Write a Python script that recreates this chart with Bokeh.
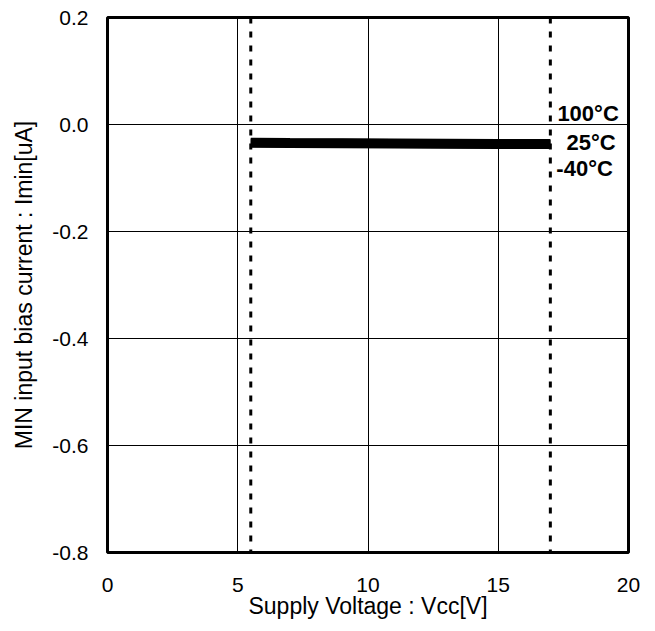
from bokeh.plotting import figure
from bokeh.models import Range1d, FixedTicker, Span, Label
from bokeh.embed import file_html
from bokeh.resources import INLINE

# ---- data ----
vcc = [5.5, 7.0, 9.0, 11.0, 13.0, 15.0, 17.0]
imin_100 = [-0.033, -0.0335, -0.034, -0.0345, -0.035, -0.0355, -0.0355]
imin_25 = [-0.034, -0.0345, -0.035, -0.0355, -0.036, -0.0365, -0.0365]
imin_m40 = [-0.035, -0.0355, -0.036, -0.0365, -0.037, -0.0375, -0.0375]
x_ticks = [0, 5, 10, 15, 20]
y_ticks = [-0.8, -0.6, -0.4, -0.2, 0.0, 0.2]
y_tick_labels = {-0.8: "-0.8", -0.6: "-0.6", -0.4: "-0.4", -0.2: "-0.2", 0.0: "0.0", 0.2: "0.2"}
vcc_limits = [5.5, 17.0]
temp_labels = ["100°C", "25°C", "-40°C"]

FONT = "Liberation Sans"

p = figure(width=647, height=623, output_backend="svg", toolbar_location=None,
           x_range=Range1d(0, 20), y_range=Range1d(-0.8, 0.2),
           min_border_left=107, min_border_top=17, min_border_right=19, min_border_bottom=71)

p.background_fill_color = "white"
p.border_fill_color = "white"
p.outline_line_color = "black"
p.outline_line_width = 3

for ax in (p.xaxis[0], p.yaxis[0]):
    ax.axis_line_color = None
    ax.major_tick_line_color = None
    ax.minor_tick_line_color = None
    ax.major_tick_in = 0
    ax.major_tick_out = 0
    ax.major_label_text_font = FONT
    ax.major_label_text_font_size = "21px"
    ax.major_label_text_color = "black"
    ax.axis_label_text_font = FONT
    ax.axis_label_text_font_size = "23px"
    ax.axis_label_text_font_style = "normal"
    ax.axis_label_text_color = "black"

p.xaxis.ticker = FixedTicker(ticks=x_ticks)
p.yaxis.ticker = FixedTicker(ticks=y_ticks)
p.yaxis.major_label_overrides = y_tick_labels
p.xaxis.major_label_standoff = 25
p.yaxis.major_label_standoff = 19
p.xaxis.axis_label = "Supply Voltage : Vcc[V]"
p.yaxis.axis_label = "MIN input bias current : Imin[uA]"
p.xaxis.axis_label_standoff = -2
p.yaxis.axis_label_standoff = 12

p.xgrid.ticker = FixedTicker(ticks=x_ticks)
p.ygrid.ticker = FixedTicker(ticks=y_ticks)
p.grid.grid_line_color = "black"
p.grid.grid_line_width = 1

for xv in vcc_limits:
    p.add_layout(Span(location=xv, dimension="height", line_color="black",
                      line_width=3, line_dash="6 8"))

for ys in (imin_100, imin_25, imin_m40):
    p.line(vcc, ys, line_color="black", line_width=9)

label_pos = [(17.27, 0.021), (17.62, -0.034), (17.23, -0.082)]
for txt, (lx, ly) in zip(temp_labels, label_pos):
    p.add_layout(Label(x=lx, y=ly, text=txt, text_font=FONT, text_font_size="22px",
                       text_font_style="bold", text_color="black",
                       text_align="left", text_baseline="middle"))

open("out.html", "w").write(file_html(p, INLINE))
